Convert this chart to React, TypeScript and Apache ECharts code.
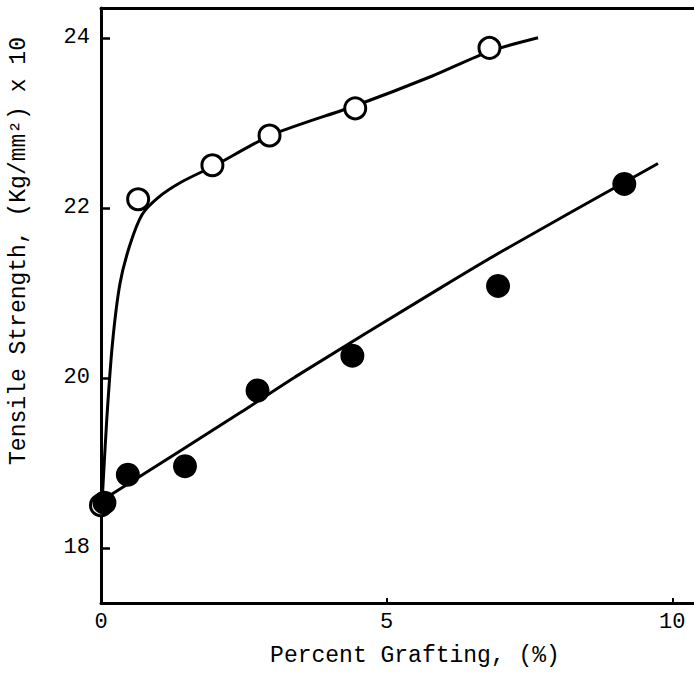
import React, { useEffect, useRef } from "react";
import * as echarts from "echarts";

// Open circles (upper series)
const openX = [0, 0.65, 1.95, 2.95, 4.45, 6.8];
const openY = [18.5, 22.1, 22.5, 22.85, 23.17, 23.88];

// Filled circles (lower series)
const filledX = [0.06, 0.47, 1.47, 2.74, 4.4, 6.95, 9.16];
const filledY = [18.53, 18.86, 18.96, 19.85, 20.26, 21.08, 22.28];

// Hand-drawn fit curves
const upperCurveX = [0.02, 0.1, 0.2, 0.33, 0.5, 0.72, 1.0, 1.4, 2.0, 3.0, 4.45, 5.8, 6.8, 7.65];
const upperCurveY = [18.55, 19.5, 20.4, 21.1, 21.55, 21.92, 22.12, 22.3, 22.5, 22.86, 23.2, 23.55, 23.84, 24.0];

const lowerCurveX = [0.0, 2.44, 3.4, 5.95, 7.05, 9.75];
const lowerCurveY = [18.55, 19.59, 20.01, 21.06, 21.5, 22.52];

const xTicks = [0, 5, 10];
const yTicks = [18, 20, 22, 24];

const FONT = "Liberation Mono";

export default function App() {
  const ref = useRef<HTMLDivElement>(null);
  useEffect(() => {
    if (!ref.current) return;
    const chart = echarts.init(ref.current, null, { renderer: "svg" });
    const zip = (xs: number[], ys: number[]) => xs.map((x, i) => [x, ys[i]]);
    chart.setOption({
      animation: false,
      backgroundColor: "#fff",
      grid: { left: 101, top: 8, right: -4, bottom: 70, outerBoundsMode: "none", containLabel: false },
      graphic: [
        {
          type: "text",
          x: 19,
          y: 251,
          rotation: Math.PI / 2,
          style: {
            text: "Tensile Strength, (Kg/mm²) x 10",
            font: `23px '${FONT}'`,
            fill: "#000",
            align: "center",
            verticalAlign: "middle",
          },
        },
        {
          type: "text",
          x: 415,
          y: 656,
          style: {
            text: "Percent Grafting, (%)",
            font: `23px '${FONT}'`,
            fill: "#000",
            align: "center",
            verticalAlign: "middle",
          },
        },
      ],
      xAxis: [
        {
          type: "value",
          min: 0,
          max: 10.45,
          interval: 5,
          position: "bottom",
          axisLine: { show: true, lineStyle: { color: "#000", width: 3 } },
          axisTick: { show: true, inside: true, length: 5, lineStyle: { color: "#000", width: 2 } },
          axisLabel: {
            color: "#000",
            fontFamily: FONT,
            fontSize: 22,
            margin: 8,
            formatter: (v: number) => (xTicks.includes(v) ? String(v) : ""),
          },
          splitLine: { show: false },
        },
        {
          type: "value",
          min: 0,
          max: 10.45,
          position: "top",
          axisLine: { show: true, lineStyle: { color: "#000", width: 3 } },
          axisTick: { show: false },
          axisLabel: { show: false },
          splitLine: { show: false },
        },
      ],
      yAxis: {
        type: "value",
        min: 17.35,
        max: 24.35,
        axisLine: { show: true, lineStyle: { color: "#000", width: 3 } },
        axisTick: {
          show: true,
          inside: true,
          length: 9,
          lineStyle: { color: "#000", width: 2.5 },
          customValues: yTicks,
        },
        axisLabel: {
          color: "#000",
          fontFamily: FONT,
          fontSize: 22,
          margin: 11,
          customValues: yTicks,
        },
        splitLine: { show: false },
      },
      series: [
        {
          type: "line",
          data: zip(upperCurveX, upperCurveY),
          smooth: 0.25,
          showSymbol: false,
          lineStyle: { color: "#000", width: 3 },
          z: 2,
        },
        {
          type: "line",
          data: zip(lowerCurveX, lowerCurveY),
          smooth: 0.3,
          showSymbol: false,
          lineStyle: { color: "#000", width: 3 },
          z: 2,
        },
        {
          type: "scatter",
          data: zip(openX, openY),
          symbol: "circle",
          symbolSize: 21,
          itemStyle: { color: "#fff", borderColor: "#000", borderWidth: 3, opacity: 1 },
          z: 3,
        },
        {
          type: "scatter",
          data: zip(filledX, filledY),
          symbol: "circle",
          symbolSize: 24,
          itemStyle: { color: "#000", opacity: 1 },
          z: 4,
        },
      ],
    });
    return () => chart.dispose();
  }, []);
  return (
    <div
      ref={ref}
      style={{ position: "fixed", left: 0, top: 0, width: 694, height: 673 }}
    />
  );
}
